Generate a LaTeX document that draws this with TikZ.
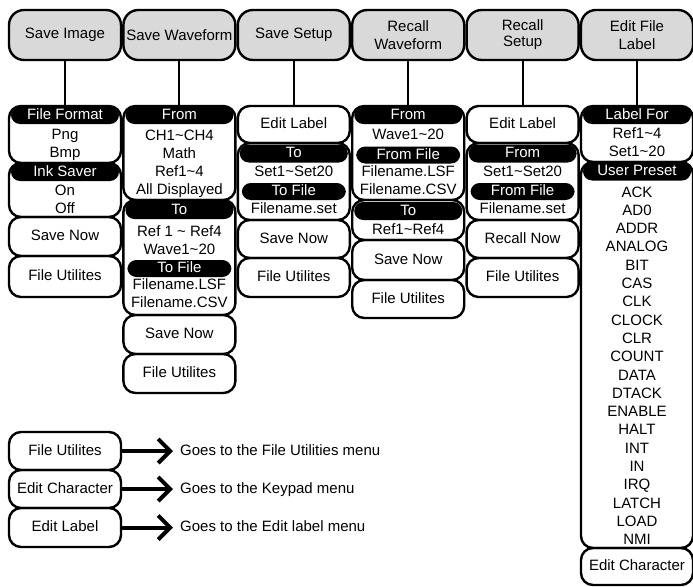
\documentclass[tikz,border=0pt]{standalone}
\usepackage{fontspec}
\setmainfont{Liberation Sans}
\usepackage{tikz}
\usetikzlibrary{arrows.meta}
\newcommand{\tild}{\textasciitilde}

\begin{document}
\begin{tikzpicture}[x=1pt, y=-1pt,
  font=\fontsize{15}{18}\selectfont,
  hdr/.style={draw, line width=2.4pt, fill=black!15, rounded corners=15pt,
    minimum width=112pt, minimum height=50pt, inner sep=0pt, align=center},
  panel/.style={draw, line width=2.4pt, rounded corners=12pt, minimum width=112pt,
    inner sep=0pt, text height=11pt, text depth=3pt},
  band/.style={fill=black, text=white, rounded corners=9pt, minimum width=108pt,
    minimum height=18pt, inner sep=0pt, text height=11pt, text depth=3pt},
  subband/.style={band, minimum width=104pt, minimum height=17pt},
  item/.style={inner sep=0pt, text height=11pt, text depth=3pt},
  wire/.style={line width=2pt},
  goes/.style={line width=4pt, -{Straight Barb[length=12pt, width=24pt]}, shorten >=7pt}]
\useasboundingbox (0,0) rectangle (693,586);

% Top menu
\node[hdr] (hImg) at (65,35) {Save Image};
\node[hdr] (hWav) at (179.4,35) {Save Waveform};
\node[hdr] (hSet) at (293.8,35) {Save Setup};
\node[hdr] (hRWav) at (408.2,35) {Recall\\Waveform};
\node[hdr] (hRSet) at (522.6,35) {Recall\\[-2pt]Setup};
\node[hdr] (hLab) at (637,35) {Edit File\\Label};

% Save Image
\node[panel, minimum height=57pt] (fmt) at (65,134.5) {};
\node[band] (fmtT) at (65,115) {File Format};
\node[item] (png) at (65,135) {Png};
\node[item] (bmp) at (65,153) {Bmp};
\node[panel, minimum height=54pt] (ink) at (65,190) {};
\node[band] (inkT) at (65,172) {Ink Saver};
\node[item] (on) at (65,191) {On};
\node[item] (off) at (65,209) {Off};
\node[panel, minimum height=39pt] (imgSave) at (65,236.5) {Save Now};
\node[panel, minimum height=41pt] (imgUtil) at (65,276.5) {File Utilites};

% Save Waveform
\node[panel, minimum height=94pt] (wFrom) at (179.4,153) {};
\node[band] (wFromT) at (179.4,115) {From};
\node[item] (wCh) at (179.4,136) {CH1\tild CH4};
\node[item] (wMath) at (179.4,154) {Math};
\node[item] (wRef) at (179.4,172) {Ref1\tild4};
\node[item] (wAll) at (179.4,190) {All Displayed};
\node[panel, minimum height=115pt] (wTo) at (179.4,257.5) {};
\node[band] (wToT) at (179.4,210) {To};
\node[item] (wRefs) at (179.4,232) {Ref 1 {\tild} Ref4};
\node[item] (wWave) at (179.4,250) {Wave1\tild20};
\node[subband] (wFileT) at (179.4,268.5) {To File};
\node[item] (wLsf) at (179.4,285) {Filename.LSF};
\node[item] (wCsv) at (179.4,303) {Filename.CSV};
\node[panel, minimum height=39pt] (wSave) at (179.4,334.5) {Save Now};
\node[panel, minimum height=39pt] (wUtil) at (179.4,373.5) {File Utilites};

% Save Setup
\node[panel, minimum height=37pt] (sLab) at (293.8,124.5) {Edit Label};
\node[panel, minimum height=77pt] (sTo) at (293.8,181.5) {};
\node[band] (sToT) at (293.8,153.5) {To};
\node[item] (sSet) at (293.8,172) {Set1\tild Set20};
\node[subband] (sFileT) at (293.8,191.5) {To File};
\node[item] (sFile) at (293.8,209) {Filename.set};
\node[panel, minimum height=38pt] (sSave) at (293.8,239) {Save Now};
\node[panel, minimum height=39pt] (sUtil) at (293.8,277.5) {File Utilites};

% Recall Waveform
\node[panel, minimum height=94pt] (rFrom) at (408.2,153) {};
\node[band] (rFromT) at (408.2,115) {From};
\node[item] (rWave) at (408.2,135) {Wave1\tild20};
\node[subband] (rFileT) at (408.2,155) {From File};
\node[item] (rLsf) at (408.2,172) {Filename.LSF};
\node[item] (rCsv) at (408.2,190) {Filename.CSV};
\node[panel, minimum height=40pt] (rTo) at (408.2,220) {};
\node[band] (rToT) at (408.2,211) {To};
\node[item] (rRef) at (408.2,230) {Ref1\tild Ref4};
\node[panel, minimum height=40pt] (rSave) at (408.2,260) {Save Now};
\node[panel, minimum height=38pt] (rUtil) at (408.2,299) {File Utilites};

% Recall Setup
\node[panel, minimum height=37pt] (qLab) at (522.6,124.5) {Edit Label};
\node[panel, minimum height=77pt] (qFrom) at (522.6,181.5) {};
\node[band] (qFromT) at (522.6,153.5) {From};
\node[item] (qSet) at (522.6,172) {Set1\tild Set20};
\node[subband] (qFileT) at (522.6,191.5) {From File};
\node[item] (qFile) at (522.6,209) {Filename.set};
\node[panel, minimum height=38pt] (qRecall) at (522.6,239) {Recall Now};
\node[panel, minimum height=39pt] (qUtil) at (522.6,277.5) {File Utilites};

% Edit File Label
\node[panel, minimum height=56pt] (lFor) at (637,134) {};
\node[band] (lForT) at (637,115) {Label For};
\node[item] (lRef) at (637,134) {Ref1\tild4};
\node[item] (lSet) at (637,152) {Set1\tild20};
\node[panel, minimum height=386pt] (lPre) at (637,355) {};
\node[band] (lPreT) at (637,171.5) {User Preset};
\foreach \w [count=\i] in {ACK,AD0,ADDR,ANALOG,BIT,CAS,CLK,CLOCK,CLR,COUNT,
    DATA,DTACK,ENABLE,HALT,INT,IN,IRQ,LATCH,LOAD,NMI}
  \node[item] (pre\i) at (637,{193+18.3*(\i-1)}) {\w};
\node[panel, minimum height=37pt] (lChar) at (637,566.5) {Edit Character};

% Links from the top menu
\draw[wire] (hImg) -- (fmt);
\draw[wire] (hWav) -- (wFrom);
\draw[wire] (hSet) -- (sLab);
\draw[wire] (hRWav) -- (rFrom);
\draw[wire] (hRSet) -- (qLab);
\draw[wire] (hLab) -- (lFor);

% Key
\node[panel, minimum height=38pt] (kUtil) at (65,451) {File Utilites};
\node[panel, minimum height=38pt] (kChar) at (65,489) {Edit Character};
\node[panel, minimum height=39pt] (kLab) at (65,527.5) {Edit Label};
\node[item, anchor=west] (gUtil) at (180,451) {Goes to the File Utilities menu};
\node[item, anchor=west] (gChar) at (180,489) {Goes to the Keypad menu};
\node[item, anchor=west] (gLab) at (180,527.5) {Goes to the Edit label menu};
\draw[goes] (kUtil) -- (gUtil);
\draw[goes] (kChar) -- (gChar);
\draw[goes] (kLab) -- (gLab);

\end{tikzpicture}
\end{document}
